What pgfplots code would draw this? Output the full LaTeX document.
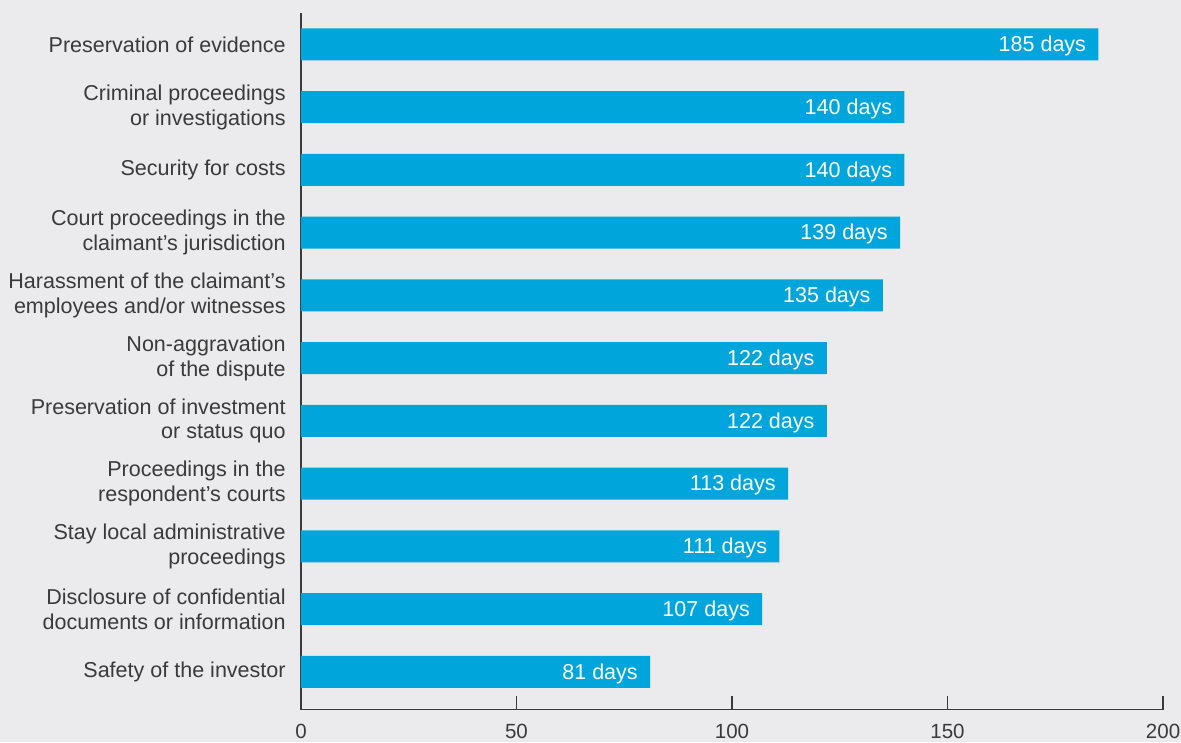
\documentclass[border=0pt]{standalone}
\usepackage{pgfplots}
\pgfplotsset{compat=1.18}
\usepackage{fontspec}
\setmainfont{Liberation Sans}
\definecolor{bg}{HTML}{EBEBED}
\definecolor{barc}{HTML}{00A6DB}
\definecolor{txt}{HTML}{3A3A3A}
\begin{document}
\begin{tikzpicture}[font=\fontsize{10.8}{12.5}\selectfont]
\fill[bg] (-151pt,-16.5pt) rectangle (441.5pt,356pt);
\begin{axis}[
  at={(0,0)}, anchor=south west,
  scale only axis, width=432.5pt, height=349.5pt,
  xmin=0, xmax=200, ymin=-0.6, ymax=10.5,
  axis x line*=bottom, axis y line*=left,
  axis line style={color=txt, line width=0.75pt},
  xtick={0,50,100,150,200},
  major tick length=7pt,
  tick style={color=txt, line width=0.75pt},
  xtick pos=lower, tick align=inside,
  ytick={0,...,10}, ytick style={draw=none},
  yticklabels={
    Safety of the investor,
    {Disclosure of confidential\\documents or information},
    {Stay local administrative\\proceedings},
    {Proceedings in the\\respondent’s courts},
    {Preservation of investment\\or status quo},
    {Non-aggravation\\of the dispute},
    {Harassment of the claimant’s\\employees and/or witnesses},
    {Court proceedings in the\\claimant’s jurisdiction},
    Security for costs,
    {Criminal proceedings\\or investigations},
    Preservation of evidence},
  yticklabel style={align=right, inner sep=0pt, xshift=-0.5pt, text=txt},
  xticklabel style={inner sep=0pt, yshift=-7pt, text=txt, font=\fontsize{10.3}{12}\selectfont},
  /pgf/number format/assume math mode=true,
  xbar, bar width=16pt,
  point meta=x,
  nodes near coords={\pgfmathprintnumber{\pgfplotspointmeta} days},
  nodes near coords style={anchor=east, inner sep=0pt, xshift=-6pt, yshift=-0.8pt, text=white},
]
\addplot[fill=barc, draw=none] coordinates {
  (81,0) (107,1) (111,2) (113,3) (122,4) (122,5) (135,6) (139,7) (140,8) (140,9) (185,10)
};
\end{axis}
\pgfresetboundingbox
\useasboundingbox (-151pt,-16.5pt) rectangle (441.5pt,356pt);
\end{tikzpicture}
\end{document}
